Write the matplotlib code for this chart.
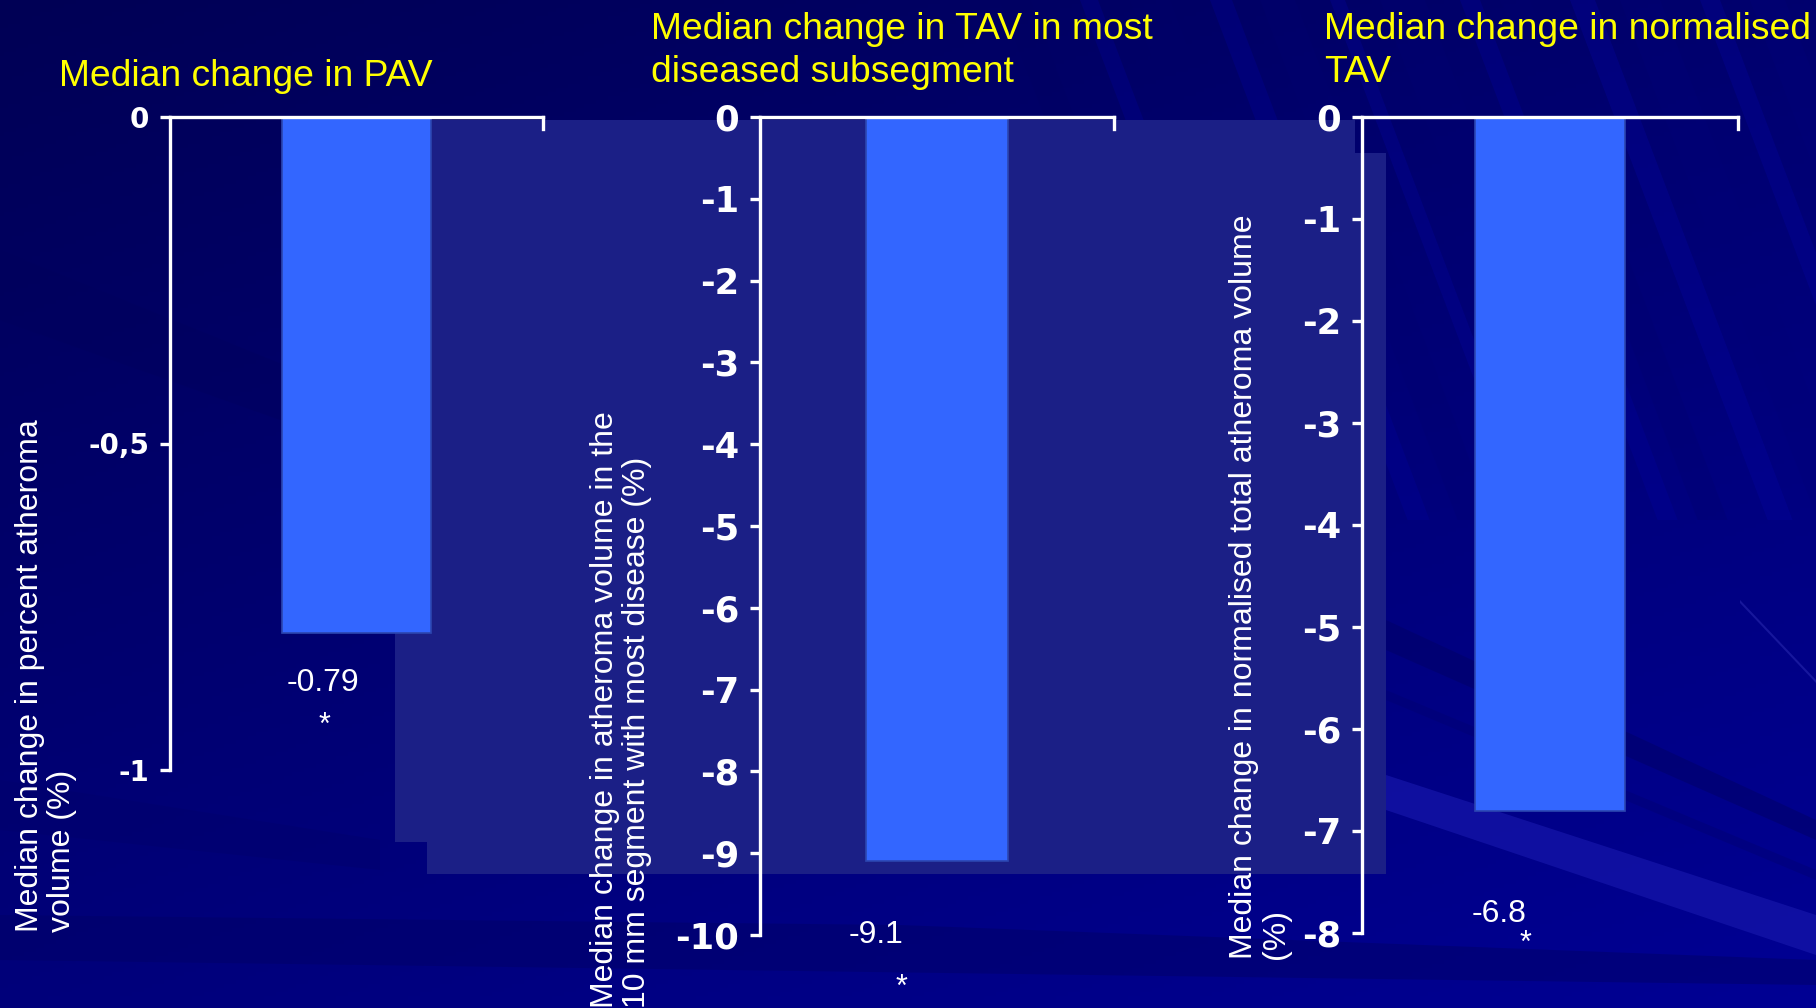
import numpy as np
import matplotlib
matplotlib.use("Agg")
import matplotlib.pyplot as plt
from matplotlib.patches import Polygon, Rectangle

# Dados dos três painéis
titulos = ["Median change in PAV",
           "Median change in TAV in most\ndiseased subsegment",
           "Median change in normalised\nTAV"]
rotulos_y = ["Median change in percent atheroma\nvolume (%)",
             "Median change in atheroma volume in the\n10 mm segment with most disease (%)",
             "Median change in normalised total atheroma volume\n(%)"]
valores = [-0.79, -9.1, -6.8]
rotulos_valor = ["-0.79", "-9.1", "-6.8"]
ticks_y = [[0, -0.5, -1], list(range(0, -11, -1)), list(range(0, -9, -1))]
ticks_txt = [["0", "-0,5", "-1"], [str(t) for t in range(0, -11, -1)],
             [str(t) for t in range(0, -9, -1)]]
limites_y = [(-1, 0), (-10, 0), (-8, 0)]

W, H = 1816, 1008
fig = plt.figure(figsize=(W / 100, H / 100), dpi=100)

# Fundo azul em degradê
bg = fig.add_axes([0, 0, 1, 1], zorder=0)
bg.set_xlim(0, W)
bg.set_ylim(H, 0)
bg.axis("off")
yy, xx = np.mgrid[0:H:4, 0:W:4]
t = 0.6 * (yy / H) + 0.4 * (xx / W)
grad = np.zeros(yy.shape + (3,))
grad[..., 2] = (0x55 + (0x94 - 0x55) * t) / 255
bg.imshow(grad, extent=(0, W, H, 0), aspect="auto", zorder=0)

# Listras finas e inclinadas no canto superior direito
listras = [(1000, 30, "#000062"), (1080, 18, "#00009a"), (1130, 40, "#00006a"),
           (1210, 22, "#02029e"), (1260, 35, "#000070"), (1330, 15, "#0404a0"),
           (1380, 45, "#000072"), (1460, 20, "#0303a0"), (1500, 30, "#00006e"),
           (1570, 25, "#0505a4"), (1620, 40, "#000078"), (1700, 20, "#0404a2"),
           (1750, 35, "#00007a")]
incl = 0.38
alt = 520
for x, larg, cor in listras:
    pts = [(x, 0), (x + larg, 0), (x + larg + incl * alt, alt), (x + incl * alt, alt)]
    bg.add_patch(Polygon(pts, closed=True, color=cor, alpha=0.3, lw=0, zorder=1))

# Faixas no canto inferior direito e na base
faixas = [
    ([(1386, 775), (1816, 915), (1816, 955), (1386, 810)], "#1616aa", 0.7),
    ([(1386, 620), (1816, 820), (1816, 840), (1386, 650)], "#000066", 0.5),
    ([(1386, 690), (1816, 870), (1816, 880), (1386, 700)], "#000070", 0.4),
    ([(1740, 600), (1816, 680), (1816, 683), (1740, 603)], "#3a3ac0", 0.4),
    ([(0, 915), (900, 925), (1816, 960), (1816, 985), (0, 960)], "#000068", 0.5),
    ([(0, 780), (380, 840), (380, 870), (0, 830)], "#00006c", 0.45),
    ([(0, 250), (420, 420), (420, 470), (0, 320)], "#00005c", 0.35),
]
for pts, cor, alfa in faixas:
    bg.add_patch(Polygon(pts, closed=True, color=cor, alpha=alfa, lw=0, zorder=1))

# Bloco mais claro atrás dos gráficos
cor_bloco = "#1b1f86"
bg.add_patch(Rectangle((395, 120), 32, 722, color=cor_bloco, lw=0, zorder=2))
bg.add_patch(Rectangle((427, 120), 928, 754, color=cor_bloco, lw=0, zorder=2))
bg.add_patch(Rectangle((1355, 153), 31, 721, color=cor_bloco, lw=0, zorder=2))

# Posição dos eixos (pixels: x do eixo, topo, base, x direito)
caixas = [(170, 117, 770, 543), (760, 117, 935, 1114), (1362, 117, 933, 1738)]
tam_ticks = [20, 25.5, 25.5]
pos_titulo = [(59, 76), (651, 51), (1324, 51)]
pos_rotulo_y = [(46, 76), (621, 0), (1260, 49)]
desloc_valor = [(-34, -50), (-61, -74), (-51, -103)]
desloc_asterisco = [(-32, -93), (-36, -127), (-25, -133)]

for i in range(3):
    x0, y_top, y_bot, x1 = caixas[i]
    ax = fig.add_axes([x0 / W, 1 - y_bot / H, (x1 - x0) / W, (y_bot - y_top) / H], zorder=3)
    ax.patch.set_alpha(0)
    ax.bar([0.5], [valores[i]], width=0.4, color="#3366ff", edgecolor="#2c46b0", linewidth=1.2)
    ax.set_xlim(0, 1)
    ax.set_ylim(*limites_y[i])
    ax.set_xticks([])
    ax.set_yticks(ticks_y[i])
    ax.set_yticklabels(ticks_txt[i], fontsize=tam_ticks[i], fontweight="bold",
                       color="white", family="DejaVu Sans")
    ax.tick_params(axis="y", colors="white", width=2.4, length=7, direction="out", pad=8)
    for s in ["left", "top", "right"]:
        ax.spines[s].set_color("white")
        ax.spines[s].set_linewidth(2.4)
    ax.spines["bottom"].set_visible(False)
    faixa = limites_y[i][1] - limites_y[i][0]
    ax.spines["right"].set_bounds(limites_y[i][1] - faixa * 12 / (y_bot - y_top), limites_y[i][1])

    ax.annotate(rotulos_valor[i], xy=(0.5, valores[i]), xytext=desloc_valor[i],
                textcoords="offset pixels", ha="center", va="center",
                fontsize=23, color="white", family="Liberation Sans")
    ax.annotate("*", xy=(0.5, valores[i]), xytext=desloc_asterisco[i],
                textcoords="offset pixels", ha="center", va="center",
                fontsize=22, color="white", family="Liberation Sans")

    tx, ty = pos_titulo[i]
    fig.text(tx / W, 1 - ty / H, titulos[i], ha="left", va="center", fontsize=26.8,
             color="#ffff00", family="Liberation Sans", linespacing=1.32)
    rx, ry = pos_rotulo_y[i]
    fig.text(rx / W, ry / H, rotulos_y[i], rotation=90, ha="center", va="bottom",
             multialignment="left", fontsize=23, color="white",
             family="Liberation Sans", linespacing=1.1)

fig.savefig("out.png", dpi=100)
